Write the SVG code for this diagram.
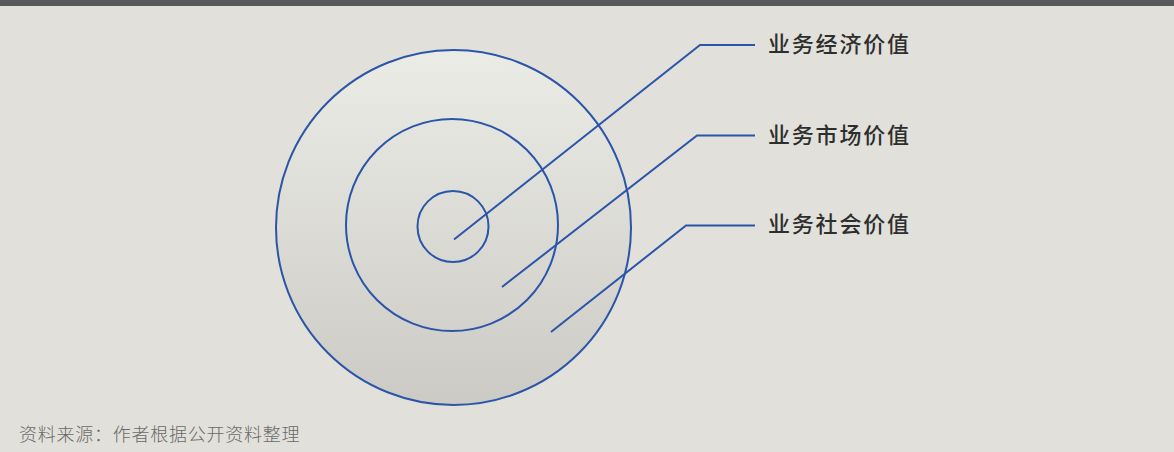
<svg xmlns="http://www.w3.org/2000/svg" width="1174" height="452" viewBox="0 0 1174 452">
<style>
.ring{fill:none;stroke:#2b55a8;stroke-width:2}
.conn{fill:none;stroke:#2b55a8;stroke-width:2}
.lbl{font-family:"Liberation Sans","Noto Sans CJK SC",sans-serif;font-size:22px;font-weight:500;fill:#2e2e2e;letter-spacing:1.8px}
.src{font-family:"Liberation Sans","Noto Sans CJK SC",sans-serif;font-size:18px;font-weight:300;fill:#6a6a6a;letter-spacing:0.75px}
</style>
<defs>
<linearGradient id="g" x1="0" y1="0" x2="0" y2="1">
<stop offset="0" stop-color="#ecece7"/>
<stop offset="1" stop-color="#cbcac5"/>
</linearGradient>
</defs>
<rect x="0" y="0" width="1174" height="452" fill="#e1e0da"/>
<rect x="0" y="0" width="1174" height="6" fill="#58595b"/>
<g id="outer"><circle cx="453.5" cy="227.5" r="177.5" fill="url(#g)" stroke="#2b55a8" stroke-width="2"/></g>
<g id="middle"><circle class="ring" cx="452" cy="225" r="106"/></g>
<g id="inner"><circle class="ring" cx="453" cy="226.5" r="35.5"/></g>
<g id="connectors">
<polyline class="conn" points="454,239.5 700,45 755,45"/>
<polyline class="conn" points="502,287 697,135.5 755,135.5"/>
<polyline class="conn" points="551,332 686,225.5 755,225.5"/>
</g>
<g id="label1"><text class="lbl" x="768" y="52">业务经济价值</text></g>
<g id="label2"><text class="lbl" x="768" y="143">业务市场价值</text></g>
<g id="label3"><text class="lbl" x="768" y="232">业务社会价值</text></g>
<text class="src" x="19" y="441">资料来源：作者根据公开资料整理</text>
</svg>
